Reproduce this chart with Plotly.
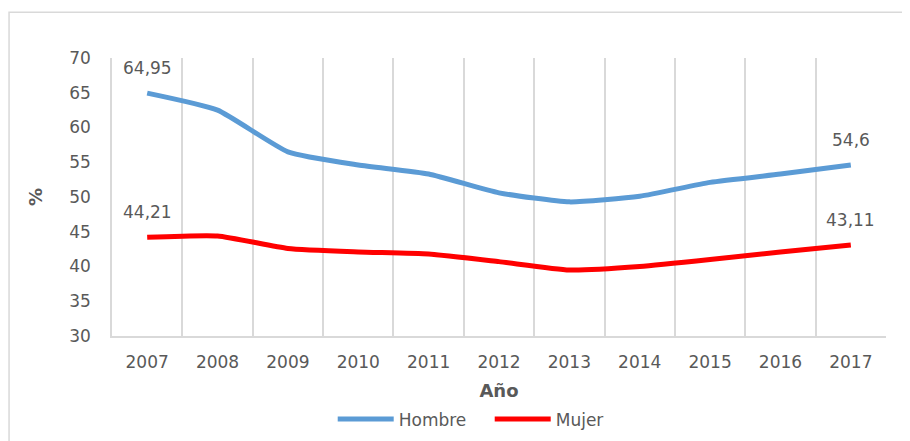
"""
Tasa por sexo 2007-2017 (Hombre / Mujer)
"""
import plotly.graph_objects as go

years = ["2007", "2008", "2009", "2010", "2011", "2012",
         "2013", "2014", "2015", "2016", "2017"]
hombre = [64.95, 62.5, 56.5, 54.6, 53.3, 50.6, 49.3, 50.1, 52.1, 53.3, 54.6]
mujer = [44.21, 44.4, 42.6, 42.1, 41.8, 40.7, 39.5, 40.0, 41.0, 42.1, 43.11]

FONT = "DejaVu Sans"
GREY = "#595959"
GRID = "#d9d9d9"

pos = list(range(len(years)))

fig = go.Figure()

fig.add_trace(go.Scatter(
    x=pos, y=hombre, name="Hombre", mode="lines",
    line=dict(color="#5B9BD5", width=5, shape="spline", smoothing=0.5),
))
fig.add_trace(go.Scatter(
    x=pos, y=mujer, name="Mujer", mode="lines",
    line=dict(color="#FF0000", width=5, shape="spline", smoothing=0.5),
))

# data labels on first and last point of each series
for serie in (hombre, mujer):
    for i in (0, len(years) - 1):
        fig.add_annotation(
            x=pos[i], y=serie[i],
            text=f"{serie[i]:g}".replace(".", ","),
            showarrow=False, yshift=25,
            font=dict(family=FONT, size=17, color=GREY),
        )

# outer chart border
fig.add_shape(
    type="rect", xref="paper", yref="paper",
    x0=-0.133, x1=1.0245, y0=-0.40, y1=1.165,
    line=dict(color=GRID, width=1.5), layer="below",
)

# page body keeps an 8px margin, so the figure is 8px smaller each way
fig.update_layout(
    width=902, height=433,
    margin=dict(l=104, r=24, t=50, b=105, autoexpand=False),
    plot_bgcolor="white", paper_bgcolor="white",
    font=dict(family=FONT, size=17, color=GREY),
    showlegend=True,
    legend=dict(
        orientation="h", x=0.488, xanchor="center",
        y=-0.30, yanchor="middle",
        font=dict(family=FONT, size=17, color=GREY),
        itemwidth=56, entrywidth=86, entrywidthmode="pixels",
        tracegroupgap=0,
    ),
    xaxis=dict(
        range=[-0.5, len(years) - 0.5],
        tickvals=pos, ticktext=years, tickangle=0,
        showgrid=False, zeroline=False,
        minor=dict(tick0=0.5, dtick=1, showgrid=True,
                   gridcolor=GRID, gridwidth=1.5),
        showline=True, linecolor=GRID, linewidth=1.5,
        ticks="", ticklabelstandoff=10,
        title=dict(text="<b>Año</b>", standoff=13,
                   font=dict(family=FONT, size=18, color=GREY)),
    ),
    yaxis=dict(
        range=[30, 70], dtick=5, showgrid=False, zeroline=False,
        showline=True, linecolor=GRID, linewidth=1.5,
        ticks="", ticklabelstandoff=16,
        title=dict(text="<b>%</b>", standoff=22,
                   font=dict(family=FONT, size=18, color=GREY)),
    ),
)

fig.write_html("out.html")
